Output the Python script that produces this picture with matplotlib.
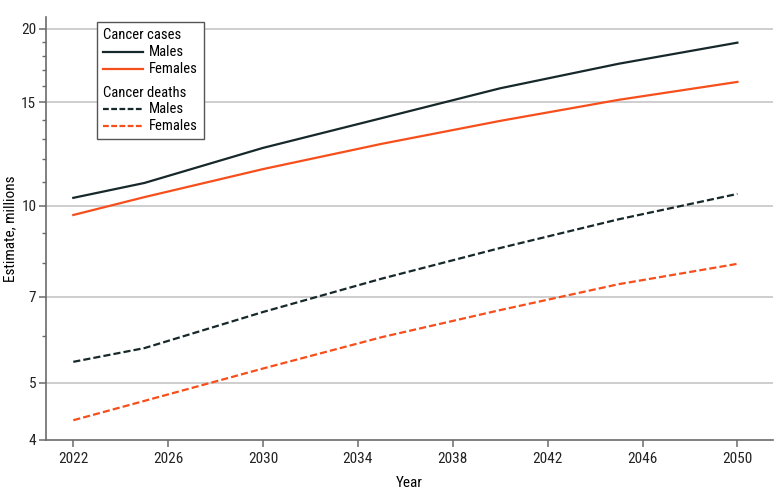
import matplotlib.pyplot as plt
from matplotlib import font_manager as fm
from matplotlib.lines import Line2D
from matplotlib.ticker import FixedLocator, FixedFormatter, NullFormatter
from matplotlib.offsetbox import AnchoredOffsetbox, VPacker, HPacker, TextArea, DrawingArea

# 細めのフォントがあれば使う
names = {f.name for f in fm.fontManager.ttflist}
narrow = None
for n in ['Liberation Sans Narrow', 'Roboto Condensed', 'Noto Sans Condensed',
          'Open Sans Condensed', 'DejaVu Sans Condensed']:
    if n in names:
        narrow = n
        break
cond_stretch = None
if narrow is None:
    for f in fm.fontManager.ttflist:
        if f.name in ('Noto Sans', 'DejaVu Sans', 'Roboto', 'Open Sans') and 'condensed' in str(f.stretch) \
                and 'semi' not in str(f.stretch) and 'extra' not in str(f.stretch) and 'ultra' not in str(f.stretch):
            narrow, cond_stretch = f.name, 'condensed'
            break
if narrow is None:
    narrow = 'Roboto'
fam = [narrow, 'DejaVu Sans']
plt.rcParams['font.family'] = fam
if cond_stretch:
    plt.rcParams['font.stretch'] = cond_stretch

# データ（百万人）
years = [2022, 2025, 2030, 2035, 2040, 2045, 2050]
cases_males = [10.32, 10.94, 12.55, 14.1, 15.85, 17.45, 18.95]
cases_females = [9.65, 10.35, 11.55, 12.75, 13.95, 15.15, 16.25]
deaths_males = [5.43, 5.73, 6.6, 7.52, 8.48, 9.49, 10.48]
deaths_females = [4.32, 4.66, 5.29, 5.98, 6.65, 7.36, 7.97]

x_ticks = [2022, 2026, 2030, 2034, 2038, 2042, 2046, 2050]
y_ticks = [4, 5, 7, 10, 15, 20]
y_minor = list(range(4, 21))

black = '#17282a'
orange = '#f64f1c'
axis_gray = '#6b6b6b'
dash = (0, (3.2, 1.4))

fig = plt.figure(figsize=(7.8, 5.01), dpi=100)
ax = fig.add_axes([0.059, 0.122, 0.932, 0.844])

ax.plot(years, cases_males, color=black, lw=1.6)
ax.plot(years, cases_females, color=orange, lw=1.6)
ax.plot(years, deaths_males, color=black, lw=1.6, ls=dash)
ax.plot(years, deaths_females, color=orange, lw=1.6, ls=dash)

ax.set_yscale('log')
ax.set_ylim(4, 20.95)
ax.set_xlim(2020.85, 2051.5)
ax.yaxis.set_major_locator(FixedLocator(y_ticks))
ax.yaxis.set_major_formatter(FixedFormatter([str(v) for v in y_ticks]))
ax.yaxis.set_minor_locator(FixedLocator(y_minor))
ax.yaxis.set_minor_formatter(NullFormatter())
ax.set_xticks(x_ticks)

for v in y_ticks[1:]:
    ax.axhline(v, color='#c6c6c6', lw=1.2, zorder=0)

for s in ['top', 'right']:
    ax.spines[s].set_visible(False)
for s in ['left', 'bottom']:
    ax.spines[s].set_color(axis_gray)
    ax.spines[s].set_linewidth(1.2)

ax.tick_params(axis='both', which='major', direction='out', length=5, width=1.1,
               color=axis_gray, labelsize=11, labelcolor='#222222')
ax.tick_params(axis='y', which='major', pad=2)
ax.tick_params(axis='x', which='major', pad=4)
ax.tick_params(axis='y', which='minor', direction='out', length=3, width=1.0, color=axis_gray)

ax.set_xlabel('Year', fontsize=11, labelpad=7)
ax.set_ylabel('Estimate, millions', fontsize=11)
ax.yaxis.set_label_coords(-0.039, 0.5)

# 凡例（見出し付き、手組み）
fs = 10.5
def row(color, ls, label):
    da = DrawingArea(29, 8, 0, 0)
    lsty = '-' if ls is None else (0, (2.6, 1.1))
    da.add_artist(Line2D([0, 29], [4, 4], color=color, lw=1.6, ls=lsty))
    return HPacker(children=[da, TextArea(label, textprops=dict(fontsize=fs))],
                   align='center', pad=0, sep=4)

def group(title, rows):
    return VPacker(children=[TextArea(title, textprops=dict(fontsize=fs))] + rows,
                   align='left', pad=0, sep=2)

g1 = group('Cancer cases', [row(black, None, 'Males'), row(orange, None, 'Females')])
g2 = group('Cancer deaths', [row(black, 'd', 'Males'), row(orange, 'd', 'Females')])
box = VPacker(children=[g1, g2], align='left', pad=0, sep=7)
anch = AnchoredOffsetbox(loc='upper left', child=box, pad=0.45, borderpad=0, frameon=True,
                         bbox_to_anchor=(0.07, 0.988), bbox_transform=ax.transAxes)
anch.patch.set_boxstyle('square', pad=0)
anch.patch.set_edgecolor('#555555')
anch.patch.set_linewidth(1.0)
ax.add_artist(anch)

fig.savefig('out.png', dpi=100)
